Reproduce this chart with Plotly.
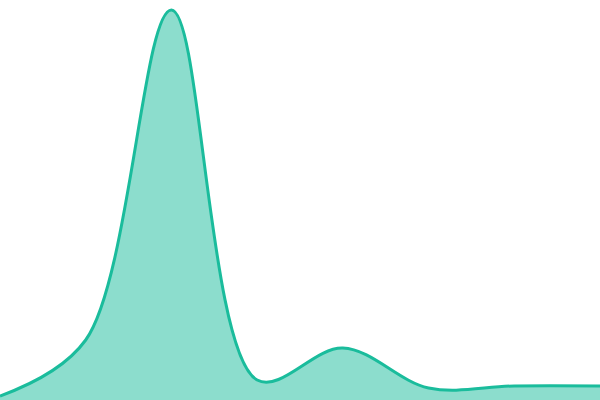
import plotly.graph_objects as go

x_vals = [0, 1, 2, 3, 4, 5, 6, 7]
y_vals = [4, 60, 390, 20, 52, 12, 14, 14]

line_color = "#1abc9c"
fill_color = "rgba(26,188,156,0.5)"

fig = go.Figure()
fig.add_trace(go.Scatter(
    x=x_vals, y=y_vals,
    mode="lines",
    line=dict(color=line_color, width=3, shape="spline", smoothing=1),
    fill="tozeroy",
    fillcolor=fill_color,
    hoverinfo="skip",
))

fig.update_layout(
    width=600, height=400,
    margin=dict(l=0, r=0, t=0, b=0),
    paper_bgcolor="white", plot_bgcolor="white",
    showlegend=False,
    xaxis=dict(visible=False, range=[0, 7]),
    yaxis=dict(visible=False, range=[0, 400]),
)

# page body has an 8px margin by default, drop it so the chart fills the window
fig.write_html("out.html", post_script="document.body.style.margin='0';",
               config={"displayModeBar": False})
